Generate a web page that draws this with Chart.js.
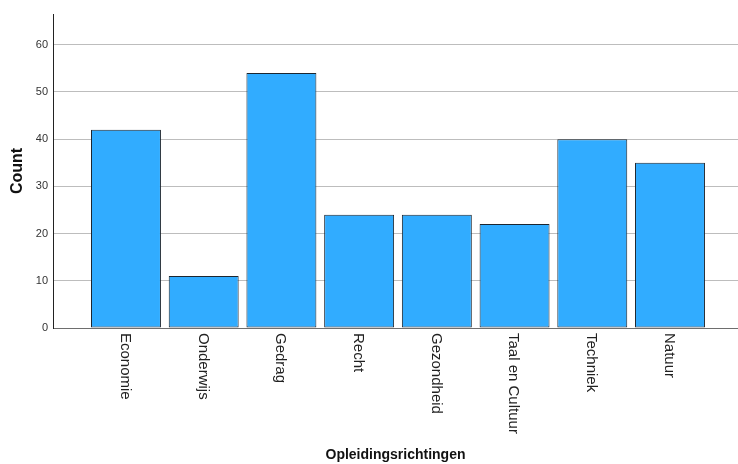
<!DOCTYPE html>
<html>
<head>
<meta charset="utf-8">
<script src="https://cdn.jsdelivr.net/npm/chart.js@4"></script>
<style>
  body { margin: 0; background: #fff; }
</style>
</head>
<body>
<canvas id="myChart" width="738" height="464"></canvas>
<script>
// data
var categories = ['Economie', 'Onderwijs', 'Gedrag', 'Recht', 'Gezondheid', 'Taal en Cultuur', 'Techniek', 'Natuur'];
var counts = [42, 11, 54, 24, 24, 22, 40, 35];
var yTicks = [0, 10, 20, 30, 40, 50, 60];

var points = [];
for (var i = 0; i < categories.length; i++) {
  points.push({ x: i, y: counts[i] });
}

// rotated category labels, reading top to bottom
const rotatedLabels = {
  id: 'rotatedLabels',
  afterDraw(chart) {
    const ctx = chart.ctx;
    const xs = chart.scales.x;
    ctx.save();
    ctx.font = '15px "Liberation Sans", Arial, sans-serif';
    ctx.fillStyle = '#222';
    ctx.textAlign = 'left';
    ctx.textBaseline = 'middle';
    for (var i = 0; i < categories.length; i++) {
      ctx.save();
      ctx.translate(xs.getPixelForValue(i) - 1, chart.chartArea.bottom + 5);
      ctx.rotate(Math.PI / 2);
      ctx.fillText(categories[i], 0, 0);
      ctx.restore();
    }
    ctx.restore();
  }
};

const config = {
  type: 'bar',
  data: {
    datasets: [{
      label: 'Count',
      data: points,
      backgroundColor: '#31acff',
      borderColor: '#1c2630',
      borderWidth: 1,
      borderSkipped: false,
      categoryPercentage: 1,
      barPercentage: 0.9
    }]
  },
  options: {
    responsive: false,
    animation: false,
    layout: { padding: { top: 14, right: 0, left: 0, bottom: 0 } },
    plugins: {
      legend: { display: false },
      tooltip: { enabled: false }
    },
    scales: {
      x: {
        type: 'linear',
        bounds: 'data',
        offset: false,
        min: -0.939,
        max: 7.875,
        afterBuildTicks: function(scale) {
          scale.ticks = categories.map(function(c, i) { return { value: i }; });
        },
        grid: { display: false },
        ticks: { display: false },
        border: { color: '#6e6e6e', width: 1 },
        title: {
          display: true,
          text: 'Opleidingsrichtingen',
          color: '#111',
          font: { family: '"Liberation Sans", Arial, sans-serif', size: 14, weight: 'bold' },
          padding: { top: 0, bottom: 0 }
        },
        afterFit: function(scale) { scale.height = 136; }
      },
      y: {
        bounds: 'data',
        min: 0,
        max: 66.5,
        afterBuildTicks: function(scale) {
          scale.ticks = yTicks.map(function(v) { return { value: v }; });
        },
        grid: { color: '#bdbdbd', drawTicks: false },
        border: { color: '#222', width: 1 },
        ticks: {
          padding: 5,
          color: '#333',
          font: { family: '"Liberation Sans", Arial, sans-serif', size: 11 }
        },
        title: {
          display: true,
          text: 'Count',
          color: '#111',
          font: { family: '"Liberation Sans", Arial, sans-serif', size: 16, weight: 'bold' },
          padding: { top: 8, bottom: 0 }
        },
        afterFit: function(scale) { scale.width = 53; }
      }
    }
  },
  plugins: [rotatedLabels]
};

const myChart = new Chart(document.getElementById('myChart'), config);
</script>
</body>
</html>
